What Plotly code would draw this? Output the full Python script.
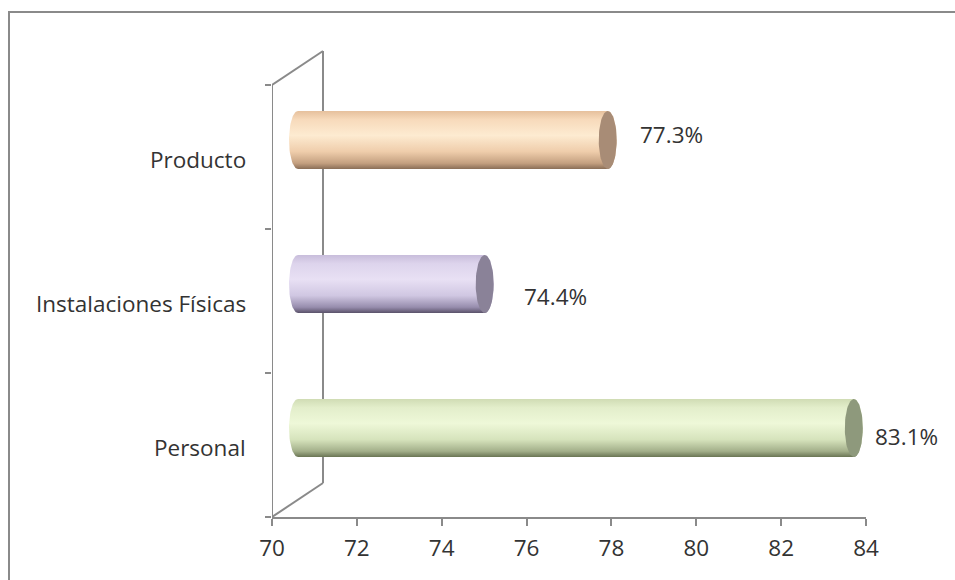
import numpy as np
import plotly.graph_objects as go

# Survey results by dimension (bottom to top)
categories = ["Personal", "Instalaciones Físicas", "Producto"]
values = [83.1, 74.4, 77.3]
value_labels = ["83.1%", "74.4%", "77.3%"]
x_ticks = [70, 72, 74, 76, 78, 80, 82, 84]

# Cylinder shading (bottom -> top) and end-cap colours
body_scales = [
    [[0, "#6a7554"], [0.1, "#a3af8a"], [0.3, "#d6e3bc"], [0.58, "#eef8d8"], [0.85, "#e3eecb"], [1, "#d0dcb4"]],
    [[0, "#5a526a"], [0.1, "#978dad"], [0.3, "#d0c7e2"], [0.58, "#e8e0f4"], [0.85, "#ddd4ec"], [1, "#c8bddb"]],
    [[0, "#8a6e57"], [0.1, "#c4a080"], [0.3, "#efcdab"], [0.58, "#fdebd1"], [0.85, "#f7dabb"], [1, "#e6c09c"]],
]
cap_colors = ["#8e997c", "#8a8298", "#a88c76"]

FONT = "Open Sans"
FSIZE = 22.5
TEXT = "#333333"
AXIS = "#8a8a8a"

# Plot-area geometry in pixels
W, H = 955, 580
L, R, T, B = 272, 89, 47, 63
XMIN, XMAX = 70, 84
px_x = (W - L - R) / (XMAX - XMIN)      # px per x unit
px_y = 144.0                              # px per category band
YMIN = -0.5
YMAX = YMIN + (H - T - B) / px_y

# 3D depth of the box and where the cylinders sit inside it
depth_dx, depth_dy = 51 / px_x, 34 / px_y
mid_dx, mid_dy = 26 / px_x, 17 / px_y
rx, ry = 9 / px_x, 29 / px_y

fig = go.Figure()

for i, (v, scale, cap) in enumerate(zip(values, body_scales, cap_colors)):
    x0 = XMIN + mid_dx
    x1 = v + mid_dx
    yc = i + mid_dy
    t_left = np.linspace(np.pi / 2, 3 * np.pi / 2, 40)
    t_right = np.linspace(-np.pi / 2, np.pi / 2, 40)
    bx = np.concatenate([x0 + rx * np.cos(t_left), x1 + rx * np.cos(t_right)])
    by = np.concatenate([yc + ry * np.sin(t_left), yc + ry * np.sin(t_right)])
    fig.add_trace(go.Scatter(
        x=np.append(bx, bx[0]), y=np.append(by, by[0]), mode="lines",
        line=dict(width=0), fill="toself",
        fillgradient=dict(type="vertical", colorscale=scale),
        hoverinfo="skip", showlegend=False,
    ))
    t = np.linspace(0, 2 * np.pi, 80)
    fig.add_trace(go.Scatter(
        x=x1 + rx * np.cos(t), y=yc + ry * np.sin(t), mode="lines",
        line=dict(width=0), fill="toself", fillcolor=cap,
        hoverinfo="skip", showlegend=False,
    ))

# Box edges: front left axis, back wall and the two connecting diagonals
line = dict(color=AXIS, width=2)
shapes = [
    dict(type="line", xref="x", yref="y", x0=XMIN, x1=XMIN, y0=YMIN, y1=YMIN + 3, line=line, layer="below"),
    dict(type="line", xref="x", yref="y", x0=XMIN + depth_dx, x1=XMIN + depth_dx,
         y0=YMIN + depth_dy, y1=YMIN + 3 + depth_dy, line=line, layer="below"),
    dict(type="line", xref="x", yref="y", x0=XMIN, x1=XMIN + depth_dx, y0=YMIN, y1=YMIN + depth_dy,
         line=line, layer="below"),
    dict(type="line", xref="x", yref="y", x0=XMIN, x1=XMIN + depth_dx, y0=YMIN + 3, y1=YMIN + 3 + depth_dy,
         line=line, layer="below"),
]
# Chart frame (open on the right and bottom)
pw, ph = W - L - R, H - T - B
shapes.append(dict(type="rect", xref="paper", yref="paper",
                   x0=(9 - L) / pw, x1=(W + 10 - L) / pw,
                   y0=-(H + 10 - (H - B)) / ph, y1=((H - B) - 12) / ph,
                   line=dict(color=AXIS, width=2), fillcolor="rgba(0,0,0,0)", layer="below"))

annotations = []
for i, c in enumerate(categories):
    annotations.append(dict(text=c, xref="paper", x=0, xshift=-24, xanchor="right",
                            yref="y", y=i, yshift=-2, yanchor="middle", showarrow=False,
                            font=dict(family=FONT, size=FSIZE, color=TEXT)))

label_nudges = [(45, -8), (63, -12), (56, 6)]
for i, (v, txt) in enumerate(zip(values, value_labels)):
    dx, dy = label_nudges[i]
    annotations.append(dict(text=txt, xref="x", x=v, xshift=dx, xanchor="left",
                            yref="y", y=i + mid_dy, yshift=dy, yanchor="middle", showarrow=False,
                            font=dict(family=FONT, size=FSIZE, color=TEXT)))

fig.update_layout(
    width=W, height=H,
    margin=dict(l=L, r=R, t=T, b=B, pad=0),
    paper_bgcolor="white", plot_bgcolor="white",
    shapes=shapes, annotations=annotations,
    xaxis=dict(range=[XMIN, XMAX], tickvals=x_ticks, showgrid=False, zeroline=False,
               showline=True, linecolor=AXIS, linewidth=2, ticks="outside", ticklen=7,
               tickcolor=AXIS, tickwidth=2, ticklabelstandoff=3,
               tickfont=dict(family=FONT, size=FSIZE, color=TEXT),
               fixedrange=True),
    yaxis=dict(range=[YMIN, YMAX], tickvals=[-0.5, 0.5, 1.5, 2.5], showticklabels=False,
               showgrid=False, zeroline=False, showline=False, ticks="outside", ticklen=6,
               tickcolor=AXIS, tickwidth=2, fixedrange=True),
)

fig.write_html("out.html")
